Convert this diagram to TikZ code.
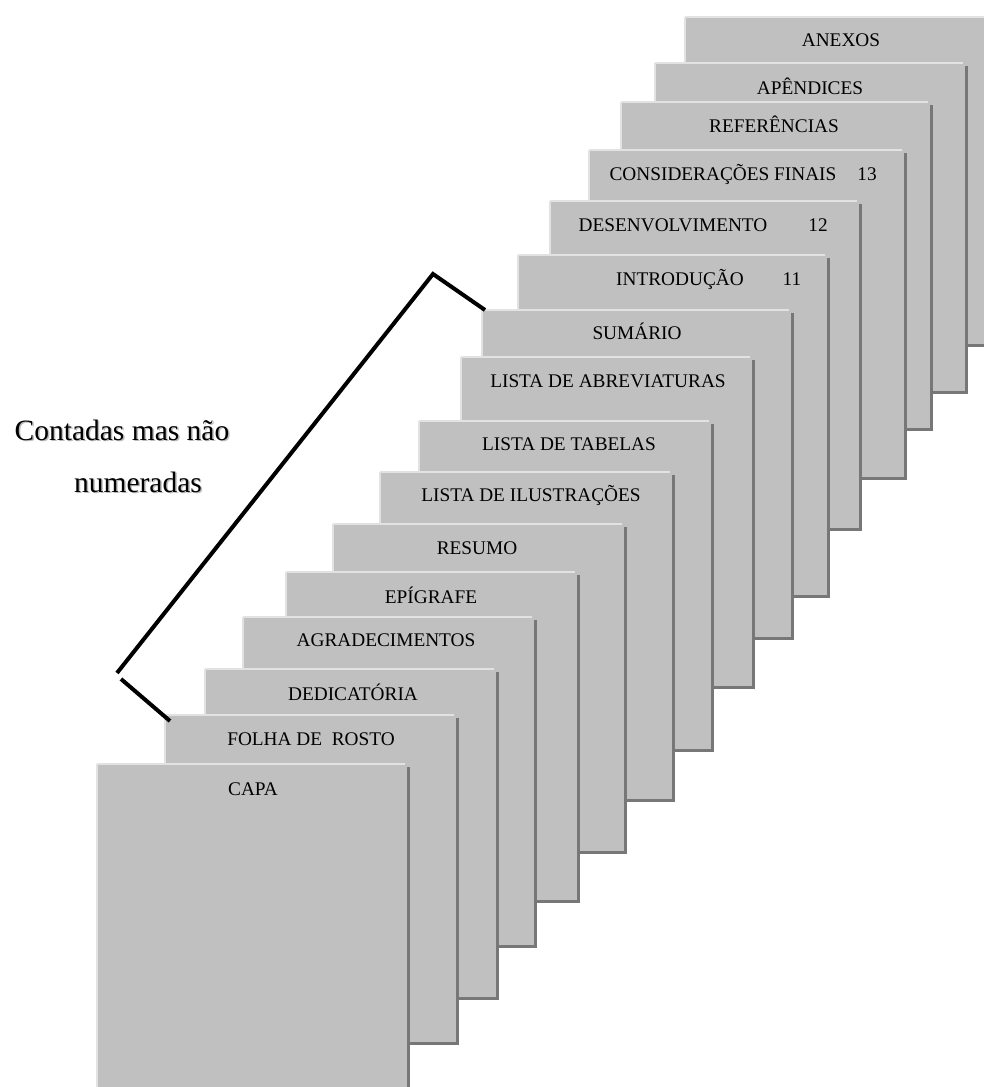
\documentclass[tikz,border=0pt]{standalone}
\usepackage{fontspec}
\setmainfont{Liberation Serif}
\definecolor{pagegray}{HTML}{C0C0C0}
\definecolor{pagelightc}{HTML}{E2E2E2}
\definecolor{pagedarkc}{HTML}{777777}
\definecolor{shadowc}{HTML}{BBBBBB}
\tikzset{
  pagefill/.style={fill=pagegray},
  pagelight/.style={draw=pagelightc, line width=2.5pt, line cap=butt},
  pagedark/.style={draw=pagedarkc, line width=3pt, line cap=rect},
  lbl/.style={anchor=base, inner sep=0pt, font=\fontsize{19.3}{23}\selectfont},
  biglbl/.style={anchor=base, inner sep=0pt, font=\fontsize{29.5}{34}\selectfont},
  bracket/.style={draw=black, line width=4pt, line cap=butt}
}
% #1 name, #2 L, #3 T, #4 R, #5 B, #6 label x, #7 label y (cap centre), #8 text
\newcommand\drawpage[8]{%
  \fill[pagefill] (#2,#3) rectangle (#4,#5);
  \draw[pagelight] (#2,#3) -- ({#4-3},#3);
  \draw[pagelight] (#2,#3) -- (#2,#5);
  \draw[pagedark] (#4,{#3+4}) -- (#4,#5) -- (#2,#5);
  \node[lbl] (#1) at (#6,{#7+6.5}) {#8};
}
\begin{document}
\begin{tikzpicture}[x=1pt,y=-1pt]
\useasboundingbox (0,0) rectangle (984,1087);
\clip (0,0) rectangle (984,1087);
% back to front
\drawpage{anexos}{685}{17}{1000}{345}{841}{40}{ANEXOS}
\drawpage{apendices}{655}{63}{966}{392}{810}{88}{APÊNDICES}
\drawpage{referencias}{621}{102}{931}{429}{774}{126}{REFERÊNCIAS}
\drawpage{consideracoes}{589}{150}{905}{478}{723}{174}{CONSIDERAÇÕES FINAIS}
\node[lbl] (n13) at (867,180.5) {13};
\drawpage{desenvolvimento}{550}{201}{860}{529}{673}{225}{DESENVOLVIMENTO}
\node[lbl] (n12) at (818,231.5) {12};
\drawpage{introducao}{518}{255}{828}{596}{680}{279}{INTRODUÇÃO}
\node[lbl] (n11) at (792,285.5) {11};
\drawpage{sumario}{482}{310}{792}{638}{637}{333}{SUMÁRIO}
\drawpage{abreviaturas}{461}{357}{753}{687}{608}{381}{LISTA DE ABREVIATURAS}
\drawpage{tabelas}{419}{421}{712}{750}{569}{444}{LISTA DE TABELAS}
\drawpage{ilustracoes}{380}{472}{673}{800}{531}{495}{LISTA DE ILUSTRAÇÕES}
\drawpage{resumo}{333}{524}{625}{852}{477}{548}{RESUMO}
\drawpage{epigrafe}{286}{572}{578}{901}{431}{597}{EPÍGRAFE}
\drawpage{agradecimentos}{243}{617}{535}{946}{386}{640}{AGRADECIMENTOS}
\drawpage{dedicatoria}{205}{669}{497}{998}{353}{694}{DEDICATÓRIA}
\drawpage{folha}{165}{715}{457}{1043}{311}{739}{FOLHA DE\ \ ROSTO}
\drawpage{capa}{97}{764}{408}{1100}{253}{789}{CAPA}
% bracket
\coordinate (apex) at (433,274);
\coordinate (topend) at (485,310);
\coordinate (lowcorner) at (117,673);
\coordinate (lowstart) at (121,679);
\coordinate (lowend) at (170,721);
\draw[bracket] (topend) -- (apex) -- (lowcorner);
\draw[bracket] (lowstart) -- (lowend);
% label with light shadow
\node[biglbl, text=shadowc] (l1s) at (123.5,441.5) {Contadas mas não};
\node[biglbl, text=shadowc] (l2s) at (139.5,493.5) {numeradas};
\node[biglbl] (l1) at (122,440) {Contadas mas não};
\node[biglbl] (l2) at (138,492) {numeradas};
\end{tikzpicture}
\end{document}
